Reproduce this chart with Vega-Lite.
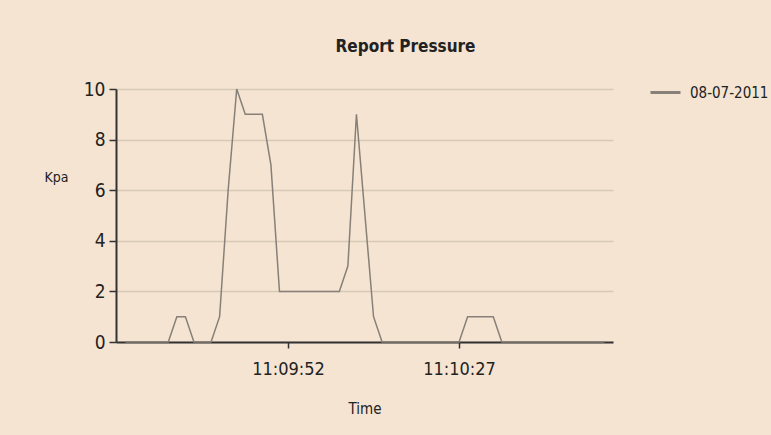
{
  "$schema": "https://vega.github.io/schema/vega-lite/v6.json",
  "width": 497,
  "height": 253,
  "autosize": "none",
  "padding": {"left": 116, "top": 89, "right": 158, "bottom": 93},
  "background": "#f5e4d2",
  "config": {
    "font": "DejaVu Sans Condensed",
    "view": {"stroke": null}
  },
  "title": {
    "text": "Report Pressure",
    "fontSize": 17,
    "fontWeight": "bold",
    "color": "#222222",
    "anchor": "middle",
    "dx": 41,
    "offset": 20
  },
  "data": {
    "values": [
      {"time": "2011-07-08T11:09:18.750", "kpa": 0, "series": "08-07-2011"},
      {"time": "2011-07-08T11:09:20.500", "kpa": 0, "series": "08-07-2011"},
      {"time": "2011-07-08T11:09:22.250", "kpa": 0, "series": "08-07-2011"},
      {"time": "2011-07-08T11:09:24.000", "kpa": 0, "series": "08-07-2011"},
      {"time": "2011-07-08T11:09:25.750", "kpa": 0, "series": "08-07-2011"},
      {"time": "2011-07-08T11:09:27.500", "kpa": 0, "series": "08-07-2011"},
      {"time": "2011-07-08T11:09:29.250", "kpa": 1, "series": "08-07-2011"},
      {"time": "2011-07-08T11:09:31.000", "kpa": 1, "series": "08-07-2011"},
      {"time": "2011-07-08T11:09:32.750", "kpa": 0, "series": "08-07-2011"},
      {"time": "2011-07-08T11:09:34.500", "kpa": 0, "series": "08-07-2011"},
      {"time": "2011-07-08T11:09:36.250", "kpa": 0, "series": "08-07-2011"},
      {"time": "2011-07-08T11:09:38.000", "kpa": 1, "series": "08-07-2011"},
      {"time": "2011-07-08T11:09:39.750", "kpa": 6, "series": "08-07-2011"},
      {"time": "2011-07-08T11:09:41.500", "kpa": 10, "series": "08-07-2011"},
      {"time": "2011-07-08T11:09:43.250", "kpa": 9, "series": "08-07-2011"},
      {"time": "2011-07-08T11:09:45.000", "kpa": 9, "series": "08-07-2011"},
      {"time": "2011-07-08T11:09:46.750", "kpa": 9, "series": "08-07-2011"},
      {"time": "2011-07-08T11:09:48.500", "kpa": 7, "series": "08-07-2011"},
      {"time": "2011-07-08T11:09:50.250", "kpa": 2, "series": "08-07-2011"},
      {"time": "2011-07-08T11:09:52.000", "kpa": 2, "series": "08-07-2011"},
      {"time": "2011-07-08T11:09:53.750", "kpa": 2, "series": "08-07-2011"},
      {"time": "2011-07-08T11:09:55.500", "kpa": 2, "series": "08-07-2011"},
      {"time": "2011-07-08T11:09:57.250", "kpa": 2, "series": "08-07-2011"},
      {"time": "2011-07-08T11:09:59.000", "kpa": 2, "series": "08-07-2011"},
      {"time": "2011-07-08T11:10:00.750", "kpa": 2, "series": "08-07-2011"},
      {"time": "2011-07-08T11:10:02.500", "kpa": 2, "series": "08-07-2011"},
      {"time": "2011-07-08T11:10:04.250", "kpa": 3, "series": "08-07-2011"},
      {"time": "2011-07-08T11:10:06.000", "kpa": 9, "series": "08-07-2011"},
      {"time": "2011-07-08T11:10:07.750", "kpa": 5, "series": "08-07-2011"},
      {"time": "2011-07-08T11:10:09.500", "kpa": 1, "series": "08-07-2011"},
      {"time": "2011-07-08T11:10:11.250", "kpa": 0, "series": "08-07-2011"},
      {"time": "2011-07-08T11:10:13.000", "kpa": 0, "series": "08-07-2011"},
      {"time": "2011-07-08T11:10:14.750", "kpa": 0, "series": "08-07-2011"},
      {"time": "2011-07-08T11:10:16.500", "kpa": 0, "series": "08-07-2011"},
      {"time": "2011-07-08T11:10:18.250", "kpa": 0, "series": "08-07-2011"},
      {"time": "2011-07-08T11:10:20.000", "kpa": 0, "series": "08-07-2011"},
      {"time": "2011-07-08T11:10:21.750", "kpa": 0, "series": "08-07-2011"},
      {"time": "2011-07-08T11:10:23.500", "kpa": 0, "series": "08-07-2011"},
      {"time": "2011-07-08T11:10:25.250", "kpa": 0, "series": "08-07-2011"},
      {"time": "2011-07-08T11:10:27.000", "kpa": 0, "series": "08-07-2011"},
      {"time": "2011-07-08T11:10:28.750", "kpa": 1, "series": "08-07-2011"},
      {"time": "2011-07-08T11:10:30.500", "kpa": 1, "series": "08-07-2011"},
      {"time": "2011-07-08T11:10:32.250", "kpa": 1, "series": "08-07-2011"},
      {"time": "2011-07-08T11:10:34.000", "kpa": 1, "series": "08-07-2011"},
      {"time": "2011-07-08T11:10:35.750", "kpa": 0, "series": "08-07-2011"},
      {"time": "2011-07-08T11:10:37.500", "kpa": 0, "series": "08-07-2011"},
      {"time": "2011-07-08T11:10:39.250", "kpa": 0, "series": "08-07-2011"},
      {"time": "2011-07-08T11:10:41.000", "kpa": 0, "series": "08-07-2011"},
      {"time": "2011-07-08T11:10:42.750", "kpa": 0, "series": "08-07-2011"},
      {"time": "2011-07-08T11:10:44.500", "kpa": 0, "series": "08-07-2011"},
      {"time": "2011-07-08T11:10:46.250", "kpa": 0, "series": "08-07-2011"},
      {"time": "2011-07-08T11:10:48.000", "kpa": 0, "series": "08-07-2011"},
      {"time": "2011-07-08T11:10:49.750", "kpa": 0, "series": "08-07-2011"},
      {"time": "2011-07-08T11:10:51.500", "kpa": 0, "series": "08-07-2011"},
      {"time": "2011-07-08T11:10:53.250", "kpa": 0, "series": "08-07-2011"},
      {"time": "2011-07-08T11:10:55.000", "kpa": 0, "series": "08-07-2011"},
      {"time": "2011-07-08T11:10:56.750", "kpa": 0, "series": "08-07-2011"}
    ]
  },
  "mark": {"type": "line", "strokeWidth": 1.5, "interpolate": "linear"},
  "encoding": {
    "x": {
      "field": "time",
      "type": "temporal",
      "scale": {
        "domain": [
          {"year": 2011, "month": "jul", "date": 8, "hours": 11, "minutes": 9, "seconds": 16, "milliseconds": 800},
          {"year": 2011, "month": "jul", "date": 8, "hours": 11, "minutes": 10, "seconds": 58, "milliseconds": 500}
        ]
      },
      "axis": {
        "title": "Time",
        "values": [
          {"year": 2011, "month": "jul", "date": 8, "hours": 11, "minutes": 9, "seconds": 52},
          {"year": 2011, "month": "jul", "date": 8, "hours": 11, "minutes": 10, "seconds": 27}
        ],
        "format": "%H:%M:%S",
        "grid": false,
        "domainColor": "#333333",
        "domainWidth": 2,
        "tickColor": "#333333",
        "tickSize": 6,
        "tickWidth": 1.5,
        "labelFontSize": 18,
        "labelColor": "#222222",
        "labelPadding": 12,
        "titleFontSize": 15,
        "titleFontWeight": "normal",
        "titleColor": "#222222",
        "titlePadding": 23
      }
    },
    "y": {
      "field": "kpa",
      "type": "quantitative",
      "scale": {"domain": [0, 10], "nice": false},
      "axis": {
        "title": "Kpa",
        "values": [0, 2, 4, 6, 8, 10],
        "grid": true,
        "gridColor": "#d8c8b6",
        "gridWidth": 1.5,
        "domainColor": "#333333",
        "domainWidth": 2,
        "tickColor": "#333333",
        "tickSize": 7,
        "tickWidth": 1.5,
        "labelFontSize": 19,
        "labelColor": "#222222",
        "labelPadding": 4,
        "titleAngle": 0,
        "titleX": -60,
        "titleY": 88,
        "titleAlign": "center",
        "titleBaseline": "middle",
        "titleFontSize": 14,
        "titleFontWeight": "normal",
        "titleColor": "#222222"
      }
    },
    "color": {
      "field": "series",
      "type": "nominal",
      "scale": {"range": ["#868078"]},
      "legend": {
        "title": null,
        "orient": "none",
        "legendX": 533,
        "legendY": -13,
        "symbolType": "stroke",
        "symbolSize": 900,
        "symbolStrokeWidth": 3,
        "symbolStrokeColor": "#6e6a65",
        "labelFontSize": 15,
        "labelColor": "#222222",
        "labelOffset": 8
      }
    }
  }
}
